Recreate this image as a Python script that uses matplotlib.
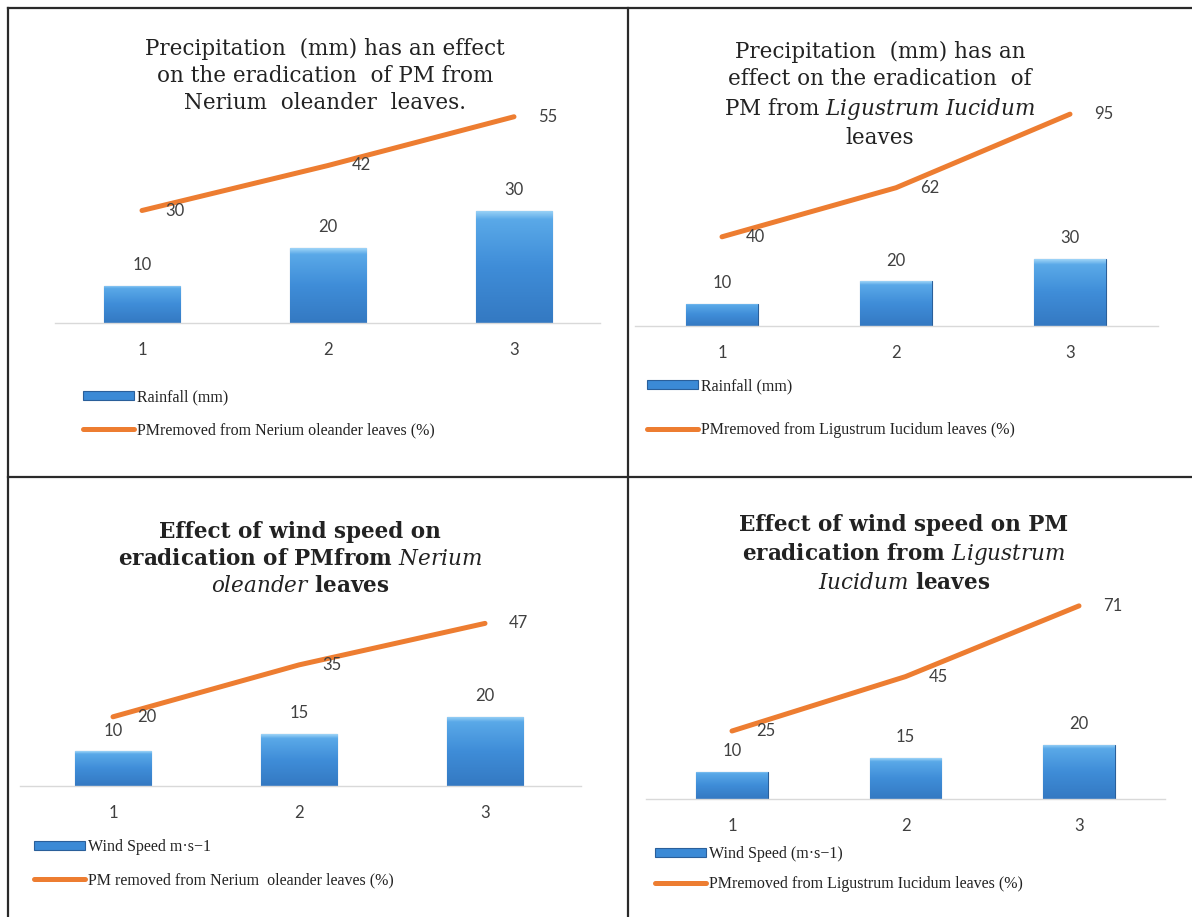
import matplotlib
matplotlib.use("Agg")
import matplotlib.pyplot as plt
from matplotlib.lines import Line2D
from matplotlib.colors import LinearSegmentedColormap
import numpy as np

# ---------------- data ----------------
categories = ["1", "2", "3"]
rainfall = [10, 20, 30]
pm_nerium_rain = [30, 42, 55]
pm_ligustrum_rain = [40, 62, 95]
wind_speed = [10, 15, 20]
pm_nerium_wind = [20, 35, 47]
pm_ligustrum_wind = [25, 45, 71]

titles = [
    "Precipitation  (mm) has an effect\non the eradication  of PM from\nNerium  oleander  leaves.",
    "Precipitation  (mm) has an\neffect on the eradication  of\nPM from $\\mathit{Ligustrum\\ Iucidum}$\nleaves",
    "Effect of wind speed on\neradication of PMfrom $\\mathit{Nerium}$\n$\\mathit{oleander}$ leaves",
    "Effect of wind speed on PM\neradication from $\\mathit{Ligustrum}$\n$\\mathit{Iucidum}$ leaves",
]
bar_labels = ["Rainfall (mm)", "Rainfall (mm)", "Wind Speed m\u00b7s\u22121", "Wind Speed (m\u00b7s\u22121)"]
line_labels = [
    "PMremoved from Nerium oleander leaves (%)",
    "PMremoved from Ligustrum Iucidum leaves (%)",
    "PM removed from Nerium  oleander leaves (%)",
    "PMremoved from Ligustrum Iucidum leaves (%)",
]
bar_series = [rainfall, rainfall, wind_speed, wind_speed]
line_series = [pm_nerium_rain, pm_ligustrum_rain, pm_nerium_wind, pm_ligustrum_wind]

# ---------------- layout (pixels) ----------------
W, H = 1192, 917
plt.rcParams["mathtext.fontset"] = "custom"
plt.rcParams["mathtext.rm"] = "DejaVu Serif"
plt.rcParams["mathtext.it"] = "DejaVu Serif:italic"

fig = plt.figure(figsize=(W / 100, H / 100), dpi=100)
fig.patch.set_facecolor("white")

layouts = [
    dict(gx0=55, gx1=600, c1=142, step=186, base=323, scale=3.75, top=100,
         tx=325, ty=76, bold=False, lx=83, ly=397, lgap=33),
    dict(gx0=635, gx1=1158, c1=722, step=174, base=326, scale=2.23, top=100,
         tx=880, ty=95, bold=False, lx=647, ly=386, lgap=44),
    dict(gx0=20, gx1=581, c1=113, step=186, base=786, scale=3.46, top=600,
         tx=300, ty=559, bold=True, lx=34, ly=847, lgap=33),
    dict(gx0=646, gx1=1165, c1=732, step=173.5, base=799, scale=2.72, top=590,
         tx=904, ty=554, bold=True, lx=655, ly=854, lgap=30),
]

bar_cmap = LinearSegmentedColormap.from_list(
    "bevel", [(0.0, "#9ed4f7"), (0.08, "#5aa9e8"), (0.5, "#3f8dd8"), (1.0, "#3479c2")])
line_color = "#ED7D31"
label_color = "#404040"
sans = ["Lato", "DejaVu Sans"]

for i, L in enumerate(layouts):
    ax = fig.add_axes([L["gx0"] / W, 1 - L["base"] / H,
                       (L["gx1"] - L["gx0"]) / W, (L["base"] - L["top"]) / H])
    x = np.arange(1, len(categories) + 1)
    bars = ax.bar(x, bar_series[i], width=0.41, color="#3b8ad6",
                  edgecolor="#2a5f9a", linewidth=0.8, zorder=2, label=bar_labels[i])
    grad = np.linspace(0, 1, 200).reshape(-1, 1)
    for r in bars:
        im = ax.imshow(grad, extent=[r.get_x(), r.get_x() + r.get_width(), 0, r.get_height()],
                       aspect="auto", cmap=bar_cmap, zorder=2.1, interpolation="bilinear")
        im.set_clip_path(r)
    ln, = ax.plot(x, line_series[i], color=line_color, lw=3.6, solid_capstyle="round",
                  solid_joinstyle="round", zorder=3, label=line_labels[i])
    for xi, v in zip(x, bar_series[i]):
        ax.annotate(str(v), (xi, v), xytext=(0, 15), textcoords="offset points",
                    ha="center", va="center", fontsize=12, color=label_color, family=sans, zorder=4)
    for xi, v in zip(x, line_series[i]):
        ax.annotate(str(v), (xi, v), xytext=(24, 0), textcoords="offset points",
                    ha="center", va="center", fontsize=12, color=label_color, family=sans, zorder=4)
    ax.set_xlim(1 - (L["c1"] - L["gx0"]) / L["step"], 1 + (L["gx1"] - L["c1"]) / L["step"])
    ax.set_ylim(0, (L["base"] - L["top"]) / L["scale"])
    ax.set_xticks(x)
    ax.set_xticklabels(categories, fontsize=12, color=label_color, family=sans)
    ax.tick_params(axis="x", length=0, pad=14)
    ax.set_yticks([])
    for s in ["top", "right", "left"]:
        ax.spines[s].set_visible(False)
    ax.spines["bottom"].set_color("#d9d9d9")
    ax.spines["bottom"].set_linewidth(1)
    ax.patch.set_alpha(0)

    fig.text(L["tx"] / W, 1 - L["ty"] / H, titles[i], ha="center", va="center",
             fontsize=15.5, family="DejaVu Serif", color="#222222",
             fontweight="bold" if L["bold"] else "normal", linespacing=1.3)

    fs = 11.5
    gap_pt = L["lgap"] * 0.72
    leg = ax.legend(handles=[bars, ln], loc="center left",
                    bbox_to_anchor=(L["lx"] / W, 1 - (L["ly"] + L["lgap"] / 2) / H),
                    bbox_transform=fig.transFigure, frameon=False,
                    prop={"family": "Liberation Serif", "size": fs},
                    handlelength=3.2, handleheight=0.55, handletextpad=0.15,
                    labelspacing=(gap_pt - fs) / fs, borderpad=0, borderaxespad=0)
    for t in leg.get_texts():
        t.set_color("#222222")

# panel borders
bc = "#2a2a2a"
fig.add_artist(Line2D([8 / W, 8 / W], [0, 1 - 8 / H], color=bc, lw=1.6))
fig.add_artist(Line2D([8 / W, 1], [1 - 8 / H, 1 - 8 / H], color=bc, lw=1.6))
fig.add_artist(Line2D([628 / W, 628 / W], [0, 1 - 8 / H], color=bc, lw=1.6))
fig.add_artist(Line2D([8 / W, 1], [1 - 477 / H, 1 - 477 / H], color=bc, lw=1.6))

fig.savefig("out.png", dpi=100)
